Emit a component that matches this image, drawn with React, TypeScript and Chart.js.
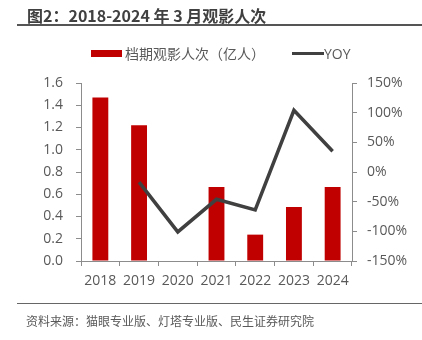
import React, { useEffect, useRef } from "react";
import { Chart, registerables } from "chart.js";

Chart.register(...registerables);

const years = ["2018", "2019", "2020", "2021", "2022", "2023", "2024"];
const admissions = [1.47, 1.22, 0, 0.665, 0.237, 0.485, 0.665];
const yoy = [null, -17, -101, -46, -64, 104, 35];
const leftTicks = { min: 0, max: 1.6, step: 0.2 };
const rightTicks = { min: -150, max: 150, step: 50 };

const titleText = "图2：2018-2024 年 3 月观影人次";
const barLabel = "档期观影人次（亿人）";
const lineLabel = "YOY";
const sourceText = "资料来源：猫眼专业版、灯塔专业版、民生证券研究院";

const RED = "#C00000";
const LINE = "#404040";
const AXIS = "#8C8C8C";
const TEXT = "#595959";
const NUM_FONT = "'Open Sans', 'Noto Sans', sans-serif";
const CJK_FONT = "'Noto Sans CJK SC', 'Noto Sans', sans-serif";

export default function App() {
  const ref = useRef<HTMLCanvasElement | null>(null);

  useEffect(() => {
    if (!ref.current) return;
    const chart = new Chart(ref.current, {
      data: {
        labels: years,
        datasets: [
          {
            type: "line",
            label: lineLabel,
            data: yoy,
            yAxisID: "y1",
            borderColor: LINE,
            backgroundColor: LINE,
            borderWidth: 3.5,
            pointRadius: 0,
            tension: 0,
            spanGaps: false,
            order: 0,
          },
          {
            type: "bar",
            label: barLabel,
            data: admissions,
            yAxisID: "y",
            backgroundColor: RED,
            borderWidth: 0,
            categoryPercentage: 1,
            barPercentage: 0.41,
            order: 1,
          },
        ],
      } as any,
      options: {
        responsive: false,
        animation: false,
        devicePixelRatio: 1,
        layout: { padding: { top: 83, left: 0, right: 0, bottom: 0 } },
        plugins: { legend: { display: false }, tooltip: { enabled: false } },
        scales: {
          x: {
            type: "category",
            offset: true,
            grid: {
              offset: true,
              drawOnChartArea: false,
              drawTicks: true,
              tickLength: 5,
              color: AXIS,
            },
            border: { display: true, color: AXIS, width: 1 },
            ticks: {
              color: TEXT,
              font: { family: NUM_FONT, size: 14 },
              padding: 7,
              maxRotation: 0,
            },
            afterFit: (s: any) => {
              s.height = 79;
            },
          },
          y: {
            position: "left",
            min: leftTicks.min,
            max: leftTicks.max,
            grid: {
              drawOnChartArea: false,
              drawTicks: true,
              tickLength: 5,
              color: AXIS,
            },
            border: { display: true, color: AXIS, width: 1 },
            ticks: {
              stepSize: leftTicks.step,
              color: TEXT,
              font: { family: NUM_FONT, size: 14 },
              padding: 13,
              callback: (v: any) => Number(v).toFixed(1),
            },
            afterFit: (s: any) => {
              s.width = 81;
            },
          },
          y1: {
            position: "right",
            min: rightTicks.min,
            max: rightTicks.max,
            grid: {
              drawOnChartArea: false,
              drawTicks: true,
              tickLength: 5,
              color: AXIS,
            },
            border: { display: true, color: AXIS, width: 1 },
            ticks: {
              stepSize: rightTicks.step,
              color: TEXT,
              font: { family: NUM_FONT, size: 14 },
              padding: 10,
              callback: (v: any) => `${Math.round(Number(v))}%`,
            },
            afterFit: (s: any) => {
              s.width = 70;
            },
          },
        },
      } as any,
    });
    return () => chart.destroy();
  }, []);

  return (
    <div
      style={{
        position: "absolute",
        left: 0,
        top: 0,
        width: 422,
        height: 340,
        background: "#fff",
        overflow: "hidden",
      }}
    >
      <canvas
        ref={ref}
        width={422}
        height={340}
        style={{ position: "absolute", left: 0, top: 0, width: 422, height: 340 }}
      />
      <div
        style={{
          position: "absolute",
          left: 27,
          top: 4,
          fontFamily: CJK_FONT,
          fontWeight: 700,
          fontSize: 16,
          lineHeight: "22px",
          color: "#404040",
          whiteSpace: "nowrap",
        }}
      >
        {titleText}
      </div>
      <div
        style={{
          position: "absolute",
          left: 17,
          top: 24,
          width: 405,
          height: 1.5,
          background: "#555",
        }}
      />
      <div
        style={{
          position: "absolute",
          left: 91,
          top: 43,
          height: 20,
          display: "flex",
          alignItems: "center",
          fontFamily: CJK_FONT,
          fontSize: 14,
          color: TEXT,
          whiteSpace: "nowrap",
        }}
      >
        <span style={{ display: "inline-block", width: 31, height: 7, background: RED, marginRight: 3 }} />
        <span>{barLabel}</span>
        <span style={{ display: "inline-block", width: 32, height: 3, background: LINE, marginLeft: 27 }} />
        <span style={{ fontFamily: NUM_FONT }}>{lineLabel}</span>
      </div>
      <div
        style={{
          position: "absolute",
          left: 17,
          top: 303,
          width: 405,
          height: 1,
          background: "#666",
        }}
      />
      <div
        style={{
          position: "absolute",
          left: 26,
          top: 312,
          fontFamily: CJK_FONT,
          fontSize: 12,
          lineHeight: "17px",
          color: TEXT,
          whiteSpace: "nowrap",
        }}
      >
        {sourceText}
      </div>
    </div>
  );
}
